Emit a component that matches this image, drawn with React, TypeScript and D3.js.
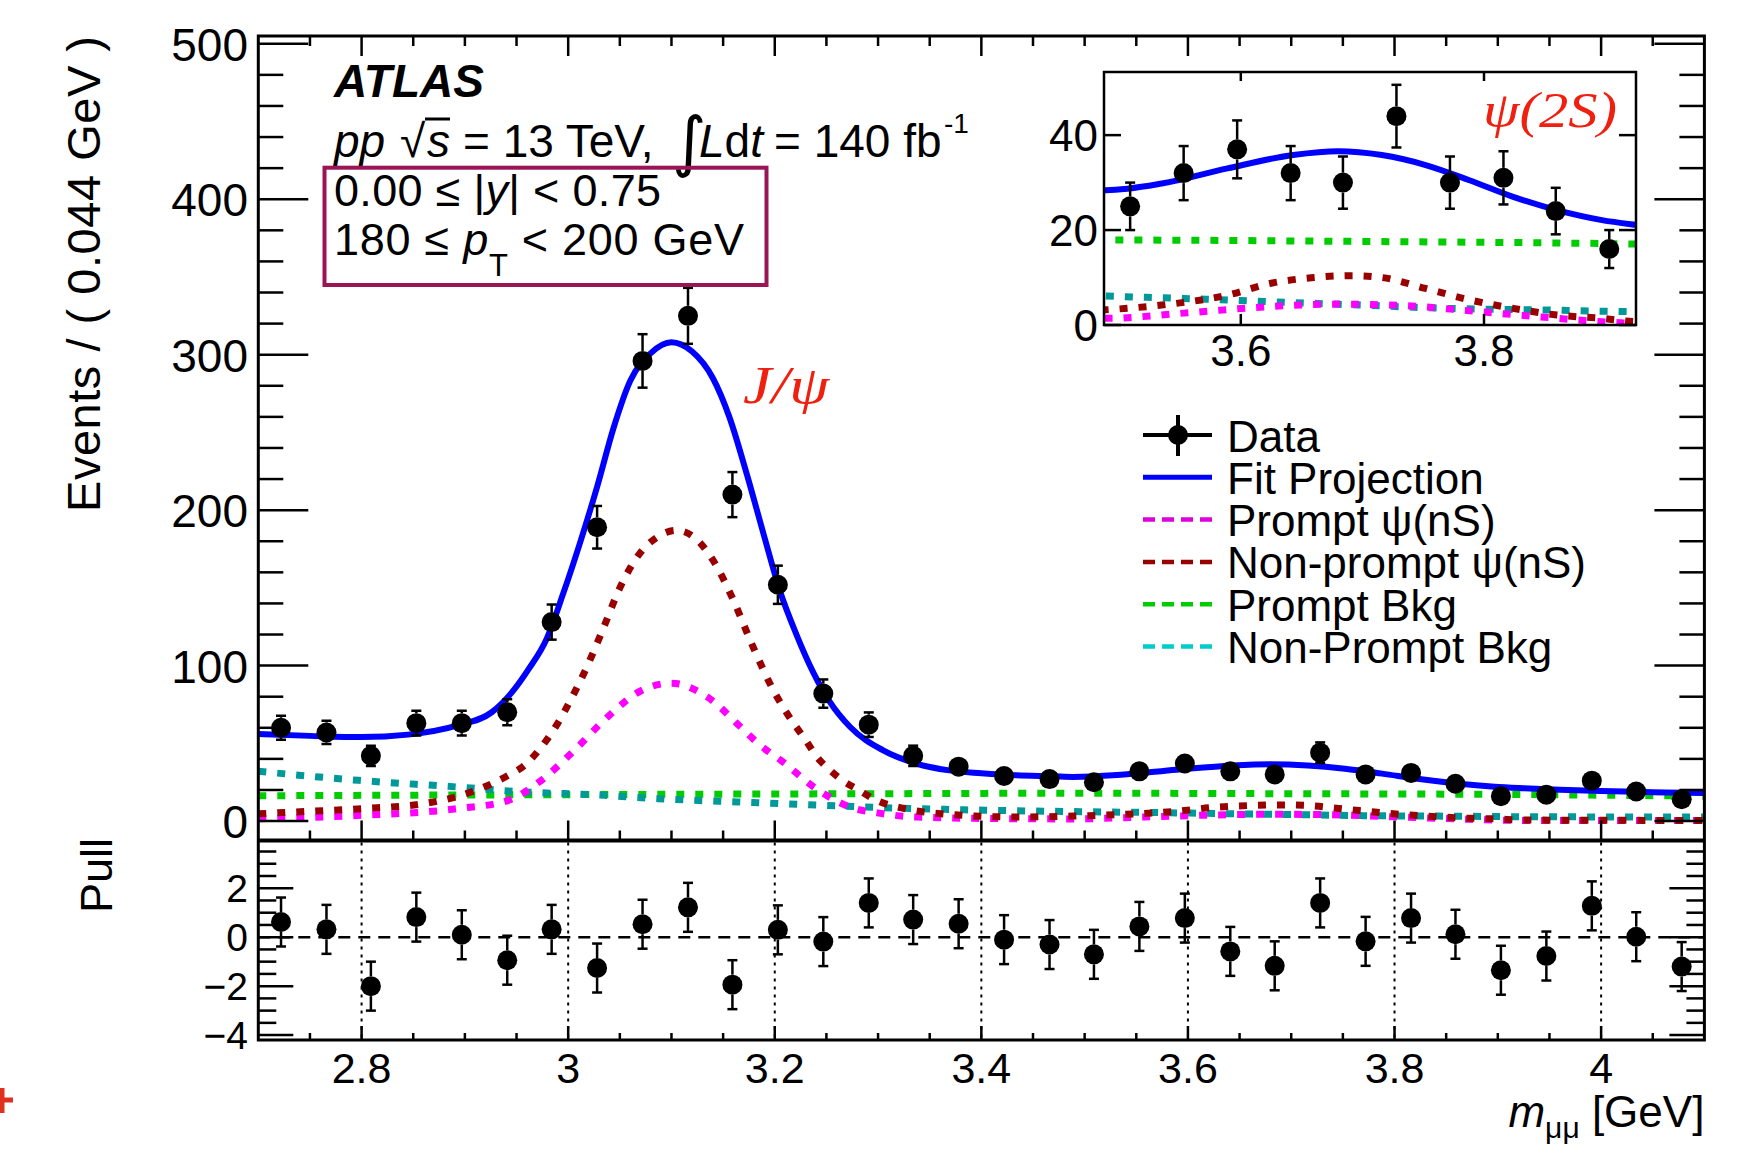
import { useEffect, useRef } from 'react';
import * as d3 from 'd3';

// m_mumu bin centres (GeV), 32 bins of 0.044 GeV between 2.7 and 4.1
const binCenters = [
  2.722, 2.766, 2.809, 2.853, 2.897, 2.941, 2.984, 3.028, 3.072, 3.116, 3.159,
  3.203, 3.247, 3.291, 3.334, 3.378, 3.422, 3.466, 3.509, 3.553, 3.597, 3.641,
  3.684, 3.728, 3.772, 3.816, 3.859, 3.903, 3.947, 3.991, 4.034, 4.078,
];
const events = [
  60, 57, 42, 63, 63, 70, 128, 189, 296, 325, 210, 152, 82, 62, 42, 35, 29, 27,
  25, 32, 37, 32, 30, 44, 30, 31, 24, 16, 17, 26, 19, 14,
];
const eventErrors = [
  7.7, 7.5, 6.5, 7.9, 7.9, 8.4, 11.3, 13.7, 17.2, 18.0, 14.5, 12.3, 9.1, 7.9,
  6.5, 5.9, 5.4, 5.2, 5.0, 5.7, 6.1, 5.7, 5.5, 6.6, 5.5, 5.6, 4.9, 4.0, 4.1,
  5.1, 4.4, 3.7,
];
const pulls = [
  0.62, 0.32, -2.0, 0.82, 0.1, -0.94, 0.32, -1.26, 0.53, 1.22, -1.94, 0.3,
  -0.18, 1.4, 0.72, 0.55, -0.1, -0.3, -0.7, 0.44, 0.78, -0.58, -1.17, 1.4,
  -0.17, 0.78, 0.12, -1.35, -0.77, 1.28, 0.02, -1.2,
];

// fit curves: [mass, events]
const fitProjection: [number, number][] = [
  [2.7, 56], [2.75, 54.8], [2.8, 54], [2.845, 55.6], [2.893, 61.5], [2.926, 70],
  [2.947, 84], [2.962, 98], [2.979, 117], [2.995, 146], [3.011, 178], [3.028, 215],
  [3.044, 253], [3.06, 283], [3.08, 301], [3.1, 308], [3.12, 302], [3.14, 285],
  [3.156, 260], [3.173, 223], [3.189, 185], [3.205, 148], [3.221, 120], [3.237, 96],
  [3.253, 77], [3.273, 60.5], [3.305, 45.5], [3.337, 37], [3.369, 32.6], [3.4, 30.8],
  [3.434, 29.4], [3.47, 28.8], [3.489, 28.4], [3.535, 29.8], [3.589, 33], [3.643, 35.8],
  [3.68, 36.6], [3.716, 35.8], [3.752, 33.7], [3.788, 30.5], [3.824, 27], [3.86, 24.2],
  [3.897, 22.1], [3.925, 21.1], [3.96, 20.1], [4.0, 19.3], [4.05, 18.6], [4.1, 18],
];
const nonPromptPsi: [number, number][] = [
  [2.7, 4.7], [2.75, 6.3], [2.8, 8], [2.86, 11.2], [2.893, 15.9], [2.926, 24],
  [2.942, 29.4], [2.958, 36], [2.974, 47.6], [2.99, 63], [3.004, 80], [3.018, 99],
  [3.034, 124], [3.05, 150], [3.068, 171], [3.087, 183], [3.105, 187], [3.123, 182],
  [3.14, 168], [3.16, 142], [3.179, 112], [3.198, 85], [3.214, 67], [3.23, 52],
  [3.24, 42], [3.253, 33], [3.266, 26], [3.282, 19.7], [3.295, 14.5], [3.331, 7.3],
  [3.369, 4.3], [3.434, 2.6], [3.489, 3.2], [3.535, 4.2], [3.589, 6.3], [3.625, 8.8],
  [3.66, 10], [3.69, 10.4], [3.716, 10], [3.752, 7.7], [3.788, 5.3], [3.824, 3.5],
  [3.86, 2.1], [3.897, 1.4], [3.925, 0.7], [4.0, 0.5], [4.1, 0.4],
];
const promptPsi: [number, number][] = [
  [2.7, 1.5], [2.8, 3.7], [2.893, 8], [2.942, 13.3], [2.974, 26.2], [3.006, 45.5],
  [3.038, 66.9], [3.071, 84], [3.1, 88.7], [3.135, 79.7], [3.167, 60.5], [3.184, 49.8],
  [3.208, 38], [3.24, 20.8], [3.273, 9], [3.305, 4.7], [3.337, 2.6], [3.434, 1.5],
  [3.489, 1.4], [3.553, 2.5], [3.625, 3.9], [3.68, 4.4], [3.734, 4.1], [3.788, 3],
  [3.842, 1.8], [3.897, 0.7], [3.925, 0.35], [4.0, 0.3], [4.1, 0.3],
];
const promptBkg: [number, number][] = [
  [2.7, 16.3], [3.0, 17], [3.3, 17.6], [3.489, 17.9], [3.7, 17.6], [3.925, 17.05], [4.1, 16],
];
const nonPromptBkg: [number, number][] = [
  [2.7, 32], [2.797, 26.2], [2.893, 21.9], [2.958, 18.7], [3.022, 17], [3.087, 14.4],
  [3.184, 11.8], [3.337, 8], [3.489, 6.1], [3.553, 5.6], [3.625, 4.9], [3.698, 4.2],
  [3.77, 3.5], [3.842, 3.2], [3.925, 2.8], [4.1, 2.6],
];

const yTicks = [0, 100, 200, 300, 400, 500];
const massTicks = [2.8, 3, 3.2, 3.4, 3.6, 3.8, 4];
const pullTicks = [-4, -2, 0, 2];
const insetYTicks = [0, 20, 40];
const insetMassTicks = [3.6, 3.8];

const legendLabels = ['Data', 'Fit Projection', 'Prompt ψ(nS)', 'Non-prompt ψ(nS)', 'Prompt Bkg', 'Non-Prompt Bkg'];

const SANS = '"Liberation Sans", Arial, Helvetica, sans-serif';
const SERIF = '"Liberation Serif", "Times New Roman", serif';

const App = () => {
  const svgRef = useRef<SVGSVGElement | null>(null);

  useEffect(() => {
    const svg = d3.select(svgRef.current);
    svg.selectAll('*').remove();

    // pad geometry
    const L = 258.3, R = 1704.4, T = 36, MID = 840.5, B = 1040;
    const x = d3.scaleLinear().domain([2.7, 4.1]).range([L, R]);
    const y = d3.scaleLinear().domain([-12.5, 505]).range([MID, T]);
    const yp = d3.scaleLinear().domain([-4.2, 3.95]).range([B, MID]);

    const IL = 1104, IR = 1636, IT = 72, IB = 325;
    const xi = d3.scaleLinear().domain([3.4875, 3.925]).range([IL, IR]);
    const yi = d3.scaleLinear().domain([0, 53.3]).range([IB, IT]);

    const defs = svg.append('defs');
    defs.append('clipPath').attr('id', 'clipMain')
      .append('rect').attr('x', L).attr('y', T).attr('width', R - L).attr('height', MID - T);
    defs.append('clipPath').attr('id', 'clipInset')
      .append('rect').attr('x', IL).attr('y', IT).attr('width', IR - IL).attr('height', IB - IT);

    svg.append('rect').attr('width', 1742).attr('height', 1154).attr('fill', '#fff');

    const curveStyles = [
      { data: promptBkg, color: '#00cc00', dash: '8 11', w: 7 },
      { data: nonPromptBkg, color: '#009999', dash: '8 11', w: 7 },
      { data: promptPsi, color: '#ff00ff', dash: '8 11', w: 7 },
      { data: nonPromptPsi, color: '#990000', dash: '8 11', w: 7 },
      { data: fitProjection, color: '#0000ff', dash: null, w: 6 },
    ];

    const drawCurves = (g, xs, ys) => {
      const line = d3.line<[number, number]>()
        .x(d => xs(d[0]))
        .y(d => ys(d[1]))
        .curve(d3.curveMonotoneX);
      curveStyles.forEach(c => {
        g.append('path')
          .datum(c.data)
          .attr('fill', 'none')
          .attr('stroke', c.color)
          .attr('stroke-width', c.w)
          .attr('stroke-dasharray', c.dash)
          .attr('d', line);
      });
    };

    // data points, error bars drawn only outside the marker (ROOT style)
    const drawPoints = (g, pts, xs, ys, r = 10) => {
      pts.forEach(p => {
        const cx = xs(p.x), cy = ys(p.y);
        const top = ys(p.y + p.e), bot = ys(p.y - p.e);
        if (cy - top > r) {
          g.append('line').attr('x1', cx).attr('x2', cx).attr('y1', cy - r).attr('y2', top)
            .attr('stroke', '#000').attr('stroke-width', 2.5);
          g.append('line').attr('x1', cx - 5).attr('x2', cx + 5).attr('y1', top).attr('y2', top)
            .attr('stroke', '#000').attr('stroke-width', 2.5);
        }
        if (bot - cy > r) {
          g.append('line').attr('x1', cx).attr('x2', cx).attr('y1', cy + r).attr('y2', bot)
            .attr('stroke', '#000').attr('stroke-width', 2.5);
          g.append('line').attr('x1', cx - 5).attr('x2', cx + 5).attr('y1', bot).attr('y2', bot)
            .attr('stroke', '#000').attr('stroke-width', 2.5);
        }
        g.append('circle').attr('cx', cx).attr('cy', cy).attr('r', r).attr('fill', '#000');
      });
    };

    const tick = (x1, y1, x2, y2, w = 2.5) =>
      svg.append('line').attr('x1', x1).attr('y1', y1).attr('x2', x2).attr('y2', y2)
        .attr('stroke', '#000').attr('stroke-width', w);

    // ---------- upper pad ----------
    const main = svg.append('g').attr('clip-path', 'url(#clipMain)');
    drawCurves(main, x, y);
    const mainPts = binCenters.map((m, i) => ({ x: m, y: events[i], e: eventErrors[i] }));
    drawPoints(main, mainPts, x, y);

    // frame
    svg.append('rect').attr('x', L).attr('y', T).attr('width', R - L).attr('height', B - T)
      .attr('fill', 'none').attr('stroke', '#000').attr('stroke-width', 3);
    tick(L, MID, R, MID, 4);

    // y ticks upper
    const yMinor = d3.range(0, 505, 20).filter(v => v % 100 !== 0);
    yTicks.forEach(v => { tick(L, y(v), L + 50, y(v)); tick(R, y(v), R - 50, y(v)); });
    yMinor.forEach(v => { tick(L, y(v), L + 25, y(v)); tick(R, y(v), R - 25, y(v)); });
    svg.append('g').selectAll('text').data(yTicks).join('text')
      .attr('x', 248).attr('y', d => y(d) + 17)
      .attr('text-anchor', 'end').attr('font-family', SANS).attr('font-size', 46)
      .text(d => d);

    // x ticks
    const massMinor = d3.range(2.75, 4.1, 0.05).filter(v => Math.abs(v * 5 - Math.round(v * 5)) > 0.01);
    massTicks.forEach(v => {
      tick(x(v), T, x(v), T + 20); tick(x(v), MID, x(v), MID - 20);
      tick(x(v), B, x(v), B - 14);
    });
    massMinor.forEach(v => {
      tick(x(v), T, x(v), T + 10); tick(x(v), MID, x(v), MID - 10);
      tick(x(v), B, x(v), B - 7);
    });

    // ---------- pull pad ----------
    massTicks.forEach(v => {
      svg.append('line').attr('x1', x(v)).attr('x2', x(v)).attr('y1', MID + 2).attr('y2', B - 1)
        .attr('stroke', '#000').attr('stroke-width', 2).attr('stroke-dasharray', '3 5');
    });
    svg.append('line').attr('x1', L).attr('x2', R).attr('y1', yp(0)).attr('y2', yp(0))
      .attr('stroke', '#000').attr('stroke-width', 2.5).attr('stroke-dasharray', '12 8');
    const pullMinor = d3.range(-4, 3.9, 0.5).filter(v => v % 2 !== 0);
    pullTicks.forEach(v => { tick(L, yp(v), L + 35, yp(v)); tick(R, yp(v), R - 35, yp(v)); });
    pullMinor.forEach(v => { tick(L, yp(v), L + 18, yp(v)); tick(R, yp(v), R - 18, yp(v)); });
    svg.append('g').selectAll('text').data(pullTicks).join('text')
      .attr('x', 248).attr('y', d => yp(d) + 14)
      .attr('text-anchor', 'end').attr('font-family', SANS).attr('font-size', 39)
      .text(d => (d < 0 ? '\u2212' + Math.abs(d) : d));
    const pullPts = binCenters.map((m, i) => ({ x: m, y: pulls[i], e: 1 }));
    drawPoints(svg.append('g'), pullPts, x, yp);

    svg.append('g').selectAll('text').data(massTicks).join('text')
      .attr('x', d => x(d)).attr('y', 1083)
      .attr('text-anchor', 'middle').attr('font-family', SANS).attr('font-size', 43)
      .text(d => d);

    // axis titles
    svg.append('text').attr('transform', `translate(100,${T}) rotate(-90)`)
      .attr('text-anchor', 'end').attr('font-family', SANS).attr('font-size', 47)
      .attr('textLength', 476).attr('lengthAdjust', 'spacing')
      .text('Events / ( 0.044 GeV )');
    svg.append('text').attr('transform', 'translate(112,838) rotate(-90)')
      .attr('text-anchor', 'end').attr('font-family', SANS).attr('font-size', 45)
      .text('Pull');
    const xt = svg.append('text').attr('x', R).attr('y', 1127).attr('text-anchor', 'end')
      .attr('font-family', SANS).attr('font-size', 44);
    xt.append('tspan').attr('font-style', 'italic').text('m');
    xt.append('tspan').attr('font-size', 30).attr('dy', 11).text('μμ');
    xt.append('tspan').attr('dy', -11).text(' [GeV]');

    // ---------- labels ----------
    svg.append('text').attr('x', 334).attr('y', 97).attr('font-family', SANS).attr('font-size', 46)
      .attr('font-weight', 'bold').attr('font-style', 'italic').text('ATLAS');

    const lbl = (tx, ty, s, opts = {}) => {
      const t = svg.append('text').attr('x', tx).attr('y', ty).attr('font-family', SANS).attr('font-size', 46);
      Object.entries(opts).forEach(([k, v]) => t.attr(k, v));
      t.text(s);
      return t;
    };
    lbl(334, 157, 'pp', { 'font-style': 'italic' });
    lbl(400, 157, '√');
    lbl(427, 157, 's', { 'font-style': 'italic' });
    tick(425, 119, 450, 119, 3);
    lbl(463, 157, '= 13 TeV,');
    lbl(672, 164, '∫', { 'font-family': '"DejaVu Sans", sans-serif', 'font-size': 66 });
    const ldt = svg.append('text').attr('x', 699).attr('y', 157).attr('font-family', SANS).attr('font-size', 46);
    ldt.append('tspan').attr('font-style', 'italic').text('L');
    ldt.append('tspan').text('d');
    ldt.append('tspan').attr('font-style', 'italic').text('t');
    lbl(774, 157, '= 140 fb');
    lbl(944, 133, '-1', { 'font-size': 28 });

    svg.append('rect').attr('x', 324.5).attr('y', 167.7).attr('width', 442).attr('height', 117.3)
      .attr('fill', 'none').attr('stroke', '#9b1455').attr('stroke-width', 4);
    const r1 = svg.append('text').attr('x', 334).attr('y', 206).attr('font-family', SANS).attr('font-size', 45)
      .attr('textLength', 327).attr('lengthAdjust', 'spacing');
    r1.append('tspan').text('0.00 ≤ |');
    r1.append('tspan').attr('font-style', 'italic').text('y');
    r1.append('tspan').text('| < 0.75');
    const r2 = svg.append('text').attr('x', 334).attr('y', 255).attr('font-family', SANS).attr('font-size', 45)
      .attr('textLength', 410).attr('lengthAdjust', 'spacing');
    r2.append('tspan').text('180 ≤ ');
    r2.append('tspan').attr('font-style', 'italic').text('p');
    r2.append('tspan').attr('font-size', 31).attr('dy', 21).text('T');
    r2.append('tspan').attr('dy', -21).text(' < 200 GeV');

    svg.append('text').attr('x', 743).attr('y', 403).attr('font-family', SERIF).attr('font-style', 'italic')
      .attr('font-size', 52).attr('fill', '#f02010')
      .attr('textLength', 86).attr('lengthAdjust', 'spacingAndGlyphs').text('J/ψ');

    // ---------- legend ----------
    const legendColors = ['#000', '#0000ff', '#dd00dd', '#990000', '#00cc00', '#00cccc'];
    legendLabels.forEach((name, i) => {
      const cy = 435 + i * 42.3;
      if (i === 0) {
        tick(1143, cy, 1212, cy, 4);
        tick(1178, cy - 20, 1178, cy + 21, 4);
        svg.append('circle').attr('cx', 1178).attr('cy', cy).attr('r', 10).attr('fill', '#000');
      } else {
        svg.append('line').attr('x1', 1143).attr('x2', 1212).attr('y1', cy).attr('y2', cy)
          .attr('stroke', legendColors[i]).attr('stroke-width', i === 1 ? 5 : 4.5)
          .attr('stroke-dasharray', i === 1 ? null : '12 7');
      }
      svg.append('text').attr('x', 1227).attr('y', cy + 16.5).attr('font-family', SANS)
        .attr('font-size', 44).text(name);
    });

    // ---------- inset ----------
    svg.append('rect').attr('x', IL).attr('y', IT).attr('width', IR - IL).attr('height', IB - IT)
      .attr('fill', '#fff');
    const inset = svg.append('g').attr('clip-path', 'url(#clipInset)');
    drawCurves(inset, xi, yi);
    const insetPts = mainPts.filter(p => p.x > 3.4875 && p.x < 3.925);
    drawPoints(inset, insetPts, xi, yi);
    svg.append('rect').attr('x', IL).attr('y', IT).attr('width', IR - IL).attr('height', IB - IT)
      .attr('fill', 'none').attr('stroke', '#000').attr('stroke-width', 2.5);
    insetYTicks.forEach(v => { tick(IL, yi(v), IL + 17, yi(v)); tick(IR, yi(v), IR - 17, yi(v)); });
    insetMassTicks.forEach(v => { tick(xi(v), IB, xi(v), IB - 11); tick(xi(v), IT, xi(v), IT + 9); });
    svg.append('g').selectAll('text').data(insetYTicks).join('text')
      .attr('x', 1098).attr('y', d => yi(d) + 16)
      .attr('text-anchor', 'end').attr('font-family', SANS).attr('font-size', 44)
      .text(d => d);
    svg.append('g').selectAll('text').data(insetMassTicks).join('text')
      .attr('x', d => xi(d)).attr('y', 366)
      .attr('text-anchor', 'middle').attr('font-family', SANS).attr('font-size', 44)
      .text(d => d);
    svg.append('text').attr('x', 1483).attr('y', 127).attr('font-family', SERIF).attr('font-style', 'italic')
      .attr('font-size', 50).attr('fill', '#f02010')
      .attr('textLength', 134).attr('lengthAdjust', 'spacingAndGlyphs').text('ψ(2S)');

    // stray red cross at the page edge
    tick(0, 1100, 13, 1100, 5).attr('stroke', '#e0301e');
    tick(2, 1088, 2, 1113, 5).attr('stroke', '#e0301e');
  }, []);

  return (
    <svg
      ref={svgRef}
      width={1742}
      height={1154}
      style={{ position: 'absolute', left: 0, top: 0 }}
    />
  );
};

export default App;
